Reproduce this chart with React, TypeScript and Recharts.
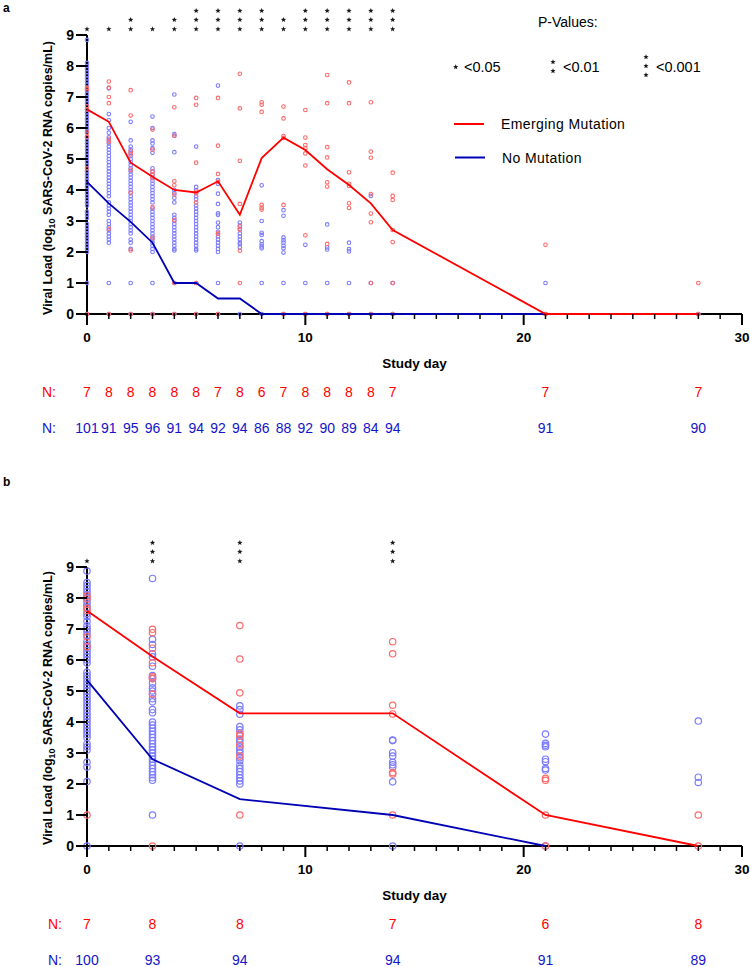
import React from 'react';
import { ComposedChart, Scatter, Line, XAxis, YAxis, ReferenceLine } from 'recharts';

const FONT = "'Liberation Sans', Arial, Helvetica, sans-serif";
const NARROW = "'Liberation Sans Narrow', 'Arial Narrow', 'Liberation Sans', Arial, sans-serif";

const RED_PT = '#ff6a6a';
const BLUE_PT = '#7c7cff';
const RED_LINE = '#ff0000';
const BLUE_LINE = '#0000b4';
const RED_TEXT = '#ff0000';
const BLUE_TEXT = '#1414c8';

// ---------- Panel a ----------
const topDays = [0, 1, 2, 3, 4, 5, 6, 7, 8, 9, 10, 11, 12, 13, 14, 21, 28];

const topBlueValues: number[][] = [
  [8.84, 8.1, 8.0, 7.9, 7.8, 7.7, 7.6, 7.5, 7.4, 7.2, 7.1, 7.0, 6.9, 6.8, 6.6, 6.5, 6.4, 6.3, 6.2, 6.1, 6.0, 5.9, 5.7, 5.6, 5.5, 5.4, 5.3, 5.2, 5.1, 5.0, 4.9, 4.8, 4.6, 4.5, 4.4, 4.3, 4.2, 4.1, 4.0, 3.9, 3.8, 3.7, 3.6, 3.5, 3.3, 3.2, 3.1, 2.9, 2.8, 2.7, 2.6, 2.5, 2.4, 2.3, 2.2, 2.1, 2.0, 1.0, 0],
  [7.28, 6.45, 6.25, 6.0, 5.85, 5.7, 5.6, 5.5, 5.4, 5.3, 5.2, 5.1, 5.0, 4.9, 4.8, 4.7, 4.6, 4.5, 4.4, 4.3, 4.2, 4.1, 4.0, 3.9, 3.8, 3.6, 3.5, 3.4, 3.3, 3.2, 3.0, 2.9, 2.8, 2.7, 2.6, 2.5, 2.4, 2.3, 1.0, 0],
  [6.2, 5.6, 5.4, 5.3, 5.2, 5.1, 5.0, 4.9, 4.8, 4.7, 4.6, 4.5, 4.4, 4.3, 4.2, 4.1, 4.0, 3.9, 3.8, 3.7, 3.6, 3.5, 3.4, 3.3, 3.2, 3.1, 3.0, 2.9, 2.8, 2.7, 2.6, 2.4, 2.3, 2.1, 1.0, 0],
  [6.37, 6.0, 5.6, 5.5, 5.35, 5.2, 4.7, 4.6, 4.5, 4.4, 4.3, 4.2, 4.1, 4.0, 3.9, 3.8, 3.7, 3.6, 3.4, 3.3, 3.2, 3.1, 3.0, 2.9, 2.8, 2.7, 2.6, 2.5, 2.4, 2.3, 2.2, 2.1, 2.0, 1.0, 0],
  [7.08, 5.8, 5.75, 5.22, 4.0, 3.9, 3.75, 3.6, 3.2, 3.1, 3.0, 2.9, 2.8, 2.7, 2.6, 2.5, 2.4, 2.3, 2.2, 2.1, 2.05, 1.0, 0],
  [5.4, 4.1, 4.0, 3.9, 3.8, 3.7, 3.5, 3.4, 3.3, 3.2, 3.1, 3.0, 2.9, 2.8, 2.7, 2.6, 2.5, 2.4, 2.3, 2.2, 2.1, 2.05, 1.0, 0],
  [7.37, 4.32, 4.2, 3.88, 3.55, 3.25, 3.2, 2.95, 2.8, 2.65, 2.5, 2.4, 2.3, 2.2, 2.1, 2.0, 1.0, 0],
  [2.95, 2.85, 2.75, 2.6, 2.5, 2.4, 2.3, 2.25, 2.15, 0],
  [4.15, 3.0, 2.62, 2.55, 2.35, 2.25, 2.18, 2.12, 1.0, 0],
  [3.35, 3.17, 2.47, 2.38, 2.3, 2.2, 2.12, 1.98, 1.0, 0],
  [2.23, 1.0, 0],
  [2.89, 2.15, 2.08, 1.0, 0],
  [2.3, 2.09, 2.02, 1.0, 0],
  [3.81, 1.0, 0],
  [1.0, 0],
  [1.0, 0],
  [0],
];

const topRedValues: number[][] = [
  [7.3, 7.25, 6.7, 6.6, 5.85, 5.72, 4.7, 0],
  [7.5, 7.3, 7.0, 6.8, 5.65, 5.55, 2.75, 0],
  [7.22, 6.4, 5.25, 5.15, 4.65, 3.92, 2.05, 0],
  [5.95, 5.3, 4.6, 4.5, 4.38, 3.45, 2.45, 0],
  [6.67, 5.75, 4.28, 4.15, 3.85, 3.03, 1.0, 0],
  [6.97, 6.75, 4.88, 3.95, 3.9, 3.6, 1.0, 0],
  [6.97, 5.43, 4.52, 4.27, 2.6, 2.58, 0],
  [7.75, 6.63, 4.94, 3.55, 2.82, 2.72, 2.04, 1.0],
  [6.83, 6.75, 6.52, 3.52, 3.43, 3.37],
  [6.69, 6.31, 5.74, 5.68, 3.52, 0],
  [6.58, 5.69, 5.45, 5.35, 5.18, 4.79, 2.54, 0],
  [7.71, 6.8, 5.38, 5.05, 4.25, 4.11, 2.26, 0],
  [7.47, 6.8, 4.57, 4.2, 4.13, 3.57, 3.42, 0],
  [6.83, 5.24, 5.04, 3.87, 3.24, 2.96, 1.0, 0],
  [4.56, 3.81, 3.68, 2.71, 2.32, 1.0, 0],
  [2.23, 0],
  [1.0, 0],
];

const topRedMedian = [6.6, 6.2, 4.88, 4.43, 4.0, 3.92, 4.28, 3.2, 5.03, 5.69, 5.29, 4.67, 4.16, 3.57, 2.71, 0, 0];
const topBlueMedian = [4.26, 3.57, 2.97, 2.3, 1.0, 1.0, 0.5, 0.5, 0, 0, 0, 0, 0, 0, 0, 0, 0];

const topStarDays = [0, 1, 2, 3, 4, 5, 6, 7, 8, 9, 10, 11, 12, 13, 14];
const topStarCounts = [1, 1, 2, 1, 2, 3, 3, 3, 3, 2, 3, 3, 3, 3, 3];

const topNDays = [0, 1, 2, 3, 4, 5, 6, 7, 8, 9, 10, 11, 12, 13, 14, 21, 28];
const topNRed = [7, 8, 8, 8, 8, 8, 7, 8, 6, 7, 8, 8, 8, 8, 7, 7, 7];
const topNBlue = [101, 91, 95, 96, 91, 94, 92, 94, 86, 88, 92, 90, 89, 84, 94, 91, 90];

// ---------- Panel b ----------
const botDays = [0, 3, 7, 14, 21, 28];

const botBlueValues: number[][] = [
  [8.87, 8.5, 8.4, 8.3, 8.2, 8.1, 8.0, 7.9, 7.8, 7.7, 7.5, 7.4, 7.25, 7.1, 7.0, 6.9, 6.8, 6.6, 6.5, 6.4, 6.3, 6.2, 6.1, 6.0, 5.9, 5.6, 5.5, 5.4, 5.3, 5.2, 5.1, 5.0, 4.9, 4.8, 4.7, 4.6, 4.5, 4.4, 4.3, 4.2, 4.1, 4.0, 3.9, 3.8, 3.7, 3.6, 3.5, 3.3, 3.2, 3.1, 2.7, 2.55, 2.08, 0],
  [8.63, 6.67, 6.5, 6.2, 6.1, 5.8, 5.5, 5.4, 5.25, 5.1, 5.0, 4.9, 4.75, 4.65, 4.4, 4.3, 4.0, 3.9, 3.8, 3.7, 3.6, 3.5, 3.4, 3.3, 3.2, 3.1, 3.0, 2.9, 2.8, 2.7, 2.6, 2.5, 2.4, 2.3, 2.2, 2.12, 1.0],
  [4.52, 4.4, 4.25, 3.85, 3.75, 3.6, 3.45, 3.35, 3.2, 3.1, 3.0, 2.85, 2.75, 2.6, 2.5, 2.4, 2.3, 2.2, 2.1, 2.0, 0],
  [3.42, 3.4, 3.01, 2.9, 2.7, 2.62, 2.55, 2.07, 0],
  [3.61, 3.31, 3.25, 3.2, 2.8, 2.72, 2.5, 2.45, 0],
  [4.03, 2.22, 2.05],
];

const botRedValues: number[][] = [
  [8.06, 7.97, 7.67, 7.6, 6.75, 6.43, 1.0],
  [6.99, 6.88, 6.38, 5.91, 5.46, 5.4, 4.9, 0],
  [7.11, 6.03, 4.94, 3.63, 3.55, 3.26, 2.9, 1.0],
  [6.59, 6.2, 4.54, 4.26, 2.37, 2.32, 1.0],
  [2.18, 2.12, 1.0, 0],
  [1.0, 0],
];

const botRedMedian = [7.59, 6.11, 4.28, 4.28, 1.0, 0];
const botBlueLineDays = [0, 3, 7, 14, 21];
const botBlueMedian = [5.35, 2.8, 1.51, 1.0, 0];

const botStarDays = [0, 3, 7, 14];
const botStarCounts = [1, 3, 3, 3];

const botNDays = [0, 3, 7, 14, 21, 28];
const botNRed = [7, 8, 8, 7, 6, 8];
const botNBlue = [100, 93, 94, 94, 91, 89];

// ---------- shared ----------
const xTicks = Array.from({ length: 31 }, (_, i) => i);
const yTicks = [0, 1, 2, 3, 4, 5, 6, 7, 8, 9];
const STAR_LEVELS = [9.19, 9.49, 9.78];

type Pt = { x: number; y: number };

const toPoints = (days: number[], values: number[][]): Pt[] =>
  days.flatMap((d, i) => values[i].map((v) => ({ x: d, y: v })));

const toLine = (days: number[], vals: number[]): Pt[] => days.map((d, i) => ({ x: d, y: vals[i] }));

const toStars = (days: number[], counts: number[]): Pt[] =>
  days.flatMap((d, i) => STAR_LEVELS.slice(0, counts[i]).map((lv) => ({ x: d, y: lv })));

const starPath = (cx: number, cy: number, R = 2.8, r = 1.2) => {
  const pts: string[] = [];
  for (let k = 0; k < 10; k++) {
    const ang = -Math.PI / 2 + (k * Math.PI) / 5;
    const rad = k % 2 === 0 ? R : r;
    pts.push(`${(cx + rad * Math.cos(ang)).toFixed(2)},${(cy + rad * Math.sin(ang)).toFixed(2)}`);
  }
  return pts.join(' ');
};

const StarShape = (p: any) => <polygon points={starPath(p.cx, p.cy)} fill="#1a1a1a" />;

const ring = (color: string, r: number, sw: number) => (p: any) =>
  <circle cx={p.cx} cy={p.cy} r={r} fill="none" stroke={color} strokeWidth={sw} />;

const makeXTick = (nDays: number[], nRed: number[], nBlue: number[]) => (props: any) => {
  const { x, y, payload } = props;
  const v = payload.value as number;
  const major = v % 10 === 0;
  const idx = nDays.indexOf(v);
  return (
    <g>
      <line x1={x} x2={x} y1={y} y2={y + (major ? 11 : 5)} stroke="#000" strokeWidth={major ? 2 : 1.5} />
      {major && (
        <text x={x} y={y + 23} textAnchor="middle" dominantBaseline="central" fontFamily={FONT} fontWeight="bold" fontSize={13.5} fill="#000">
          {v}
        </text>
      )}
      {idx >= 0 && (
        <text x={x} y={y + 78} textAnchor="middle" dominantBaseline="central" fontFamily={NARROW} fontSize={14} fill={RED_TEXT}>
          {nRed[idx]}
        </text>
      )}
      {idx >= 0 && (
        <text x={x} y={y + 114} textAnchor="middle" dominantBaseline="central" fontFamily={NARROW} fontSize={14} fill={BLUE_TEXT}>
          {nBlue[idx]}
        </text>
      )}
    </g>
  );
};

const YTick = (props: any) => {
  const { x, y, payload } = props;
  return (
    <g>
      <line x1={x - 11} x2={x} y1={y} y2={y} stroke="#000" strokeWidth={2} />
      <text x={x - 13} y={y} textAnchor="end" dominantBaseline="central" fontFamily={FONT} fontWeight="bold" fontSize={14} fill="#000">
        {payload.value}
      </text>
    </g>
  );
};

const StudyDayLabel = (props: any) => {
  const vb = props.viewBox || {};
  return (
    <text x={vb.x + vb.width / 2} y={vb.y + 49} textAnchor="middle" dominantBaseline="central" fontFamily={FONT} fontWeight="bold" fontSize={13.5} fill="#000">
      Study day
    </text>
  );
};

type PanelProps = {
  height: number;
  top: number;
  bluePts: Pt[];
  redPts: Pt[];
  blueLine: Pt[];
  redLine: Pt[];
  stars: Pt[];
  xTick: (p: any) => React.ReactElement;
  r: number;
  sw: number;
};

const Panel = ({ height, top, bluePts, redPts, blueLine, redLine, stars, xTick, r, sw }: PanelProps) => (
  <ComposedChart width={750} height={height} margin={{ top, right: 8, bottom: 0, left: 0 }}>
    <XAxis
      type="number"
      dataKey="x"
      domain={[0, 30]}
      ticks={xTicks}
      interval={0}
      tickSize={0}
      tickMargin={0}
      tickLine={false}
      axisLine={{ stroke: '#000', strokeWidth: 2 }}
      tick={xTick}
      height={height - top - 310}
      label={<StudyDayLabel />}
    />
    <YAxis
      type="number"
      dataKey="y"
      domain={[0, 10]}
      ticks={yTicks}
      interval={0}
      width={87}
      tickSize={0}
      tickMargin={0}
      tickLine={false}
      axisLine={false}
      tick={YTick}
    />
    <ReferenceLine segment={[{ x: 0, y: 0 }, { x: 0, y: 9 }]} stroke="#000" strokeWidth={2} ifOverflow="visible" />
    <Scatter data={bluePts} dataKey="y" isAnimationActive={false} shape={ring(BLUE_PT, r, sw)} zIndex={900} />
    <Scatter data={redPts} dataKey="y" isAnimationActive={false} shape={ring(RED_PT, r, sw)} zIndex={910} />
    <Line data={blueLine} dataKey="y" type="linear" stroke={BLUE_LINE} strokeWidth={1.8} dot={false} isAnimationActive={false} zIndex={920} />
    <Line data={redLine} dataKey="y" type="linear" stroke={RED_LINE} strokeWidth={1.8} dot={false} isAnimationActive={false} zIndex={930} />
    <Scatter data={stars} dataKey="y" isAnimationActive={false} shape={StarShape} zIndex={940} />
  </ComposedChart>
);

const YLabel = ({ cy }: { cy: number }) => (
  <text
    x={52}
    y={cy}
    transform={`rotate(-90 52 ${cy})`}
    textAnchor="middle"
    fontFamily={FONT}
    fontWeight="bold"
    fontSize={12.5}
    fill="#000"
  >
    Viral Load (log<tspan fontSize={9} dy={3}>10</tspan>
    <tspan dy={-3}> SARS-CoV-2 RNA copies/mL)</tspan>
  </text>
);

export default function App() {
  const topBluePts = toPoints(topDays, topBlueValues);
  const topRedPts = toPoints(topDays, topRedValues);
  const botBluePts = toPoints(botDays, botBlueValues);
  const botRedPts = toPoints(botDays, botRedValues);

  return (
    <div style={{ position: 'absolute', left: 0, top: 0, width: 750, height: 967, background: '#fff' }}>
      <div style={{ position: 'absolute', left: 0, top: 0 }}>
        <Panel
          height={440}
          top={4}
          bluePts={topBluePts}
          redPts={topRedPts}
          blueLine={toLine(topDays, topBlueMedian)}
          redLine={toLine(topDays, topRedMedian)}
          stars={toStars(topStarDays, topStarCounts)}
          xTick={makeXTick(topNDays, topNRed, topNBlue)}
          r={1.8}
          sw={1.1}
        />
      </div>
      <div style={{ position: 'absolute', left: 0, top: 440 }}>
        <Panel
          height={527}
          top={96}
          bluePts={botBluePts}
          redPts={botRedPts}
          blueLine={toLine(botBlueLineDays, botBlueMedian)}
          redLine={toLine(botDays, botRedMedian)}
          stars={toStars(botStarDays, botStarCounts)}
          xTick={makeXTick(botNDays, botNRed, botNBlue)}
          r={3.2}
          sw={1.2}
        />
      </div>
      <svg width={750} height={967} style={{ position: 'absolute', left: 0, top: 0, pointerEvents: 'none' }}>
        <text x={3} y={12} fontFamily={FONT} fontWeight="bold" fontSize={12} fill="#000">a</text>
        <text x={3} y={486} fontFamily={FONT} fontWeight="bold" fontSize={12} fill="#000">b</text>
        <YLabel cy={178} />
        <YLabel cy={708} />
        {/* N: labels */}
        <text x={42} y={392} dominantBaseline="central" fontFamily={NARROW} fontSize={14} fill={RED_TEXT}>N:</text>
        <text x={42} y={428} dominantBaseline="central" fontFamily={NARROW} fontSize={14} fill={BLUE_TEXT}>N:</text>
        <text x={48} y={924} dominantBaseline="central" fontFamily={NARROW} fontSize={14} fill={RED_TEXT}>N:</text>
        <text x={48} y={960} dominantBaseline="central" fontFamily={NARROW} fontSize={14} fill={BLUE_TEXT}>N:</text>
        {/* P-values legend */}
        <text x={538} y={27} fontFamily={FONT} fontSize={14} fill="#000">P-Values:</text>
        <polygon points={starPath(455.7, 67)} fill="#1a1a1a" />
        <text x={464} y={67} dominantBaseline="central" fontFamily={FONT} fontSize={14.5} fill="#000">{'<0.05'}</text>
        <polygon points={starPath(553, 62)} fill="#1a1a1a" />
        <polygon points={starPath(553, 71)} fill="#1a1a1a" />
        <text x={563} y={67} dominantBaseline="central" fontFamily={FONT} fontSize={14.5} fill="#000">{'<0.01'}</text>
        <polygon points={starPath(646, 57)} fill="#1a1a1a" />
        <polygon points={starPath(646, 66)} fill="#1a1a1a" />
        <polygon points={starPath(646, 75)} fill="#1a1a1a" />
        <text x={656} y={67} dominantBaseline="central" fontFamily={FONT} fontSize={14.5} fill="#000">{'<0.001'}</text>
        {/* series legend */}
        <line x1={454} x2={484} y1={124} y2={124} stroke={RED_LINE} strokeWidth={2} />
        <text x={501} y={124} dominantBaseline="central" fontFamily={FONT} fontSize={14} letterSpacing={0.4} fill="#000">Emerging Mutation</text>
        <line x1={455} x2={485} y1={157.5} y2={157.5} stroke={BLUE_LINE} strokeWidth={2} />
        <text x={502} y={158} dominantBaseline="central" fontFamily={FONT} fontSize={14} letterSpacing={0.4} fill="#000">No Mutation</text>
      </svg>
    </div>
  );
}
